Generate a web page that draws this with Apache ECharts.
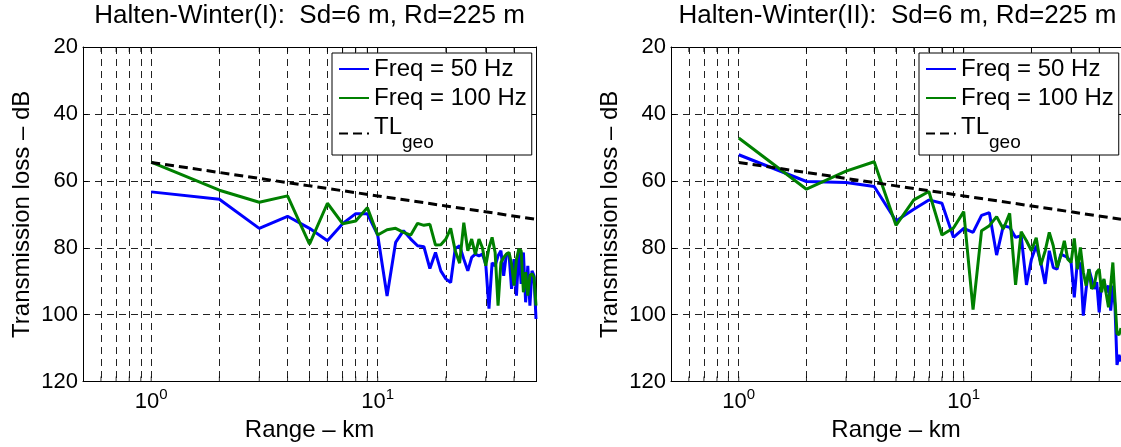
<!DOCTYPE html>
<html>
<head>
<meta charset="utf-8">
<script src="https://cdn.jsdelivr.net/npm/echarts@6/dist/echarts.min.js"></script>
<style>
  html, body { margin: 0; padding: 0; background: #fff; }
  #chart { width: 1121px; height: 447px; }
</style>
</head>
<body>
<div id="chart"></div>
<script>
// Range samples (km)
const rangeKm = [1,2,3,4,5,6,7,8,9,10,11,12,13,14,15,16,17,18,19,20,21,22,23,24,25,26,27,28,29,30,31,32,33,34,35,36,37,38,39,40,41,42,43,44,45,46,47,48,49,50];

// Halten-Winter(I) transmission loss (dB)
const winterI_50Hz = [63.3,65.5,74.2,70.6,74.2,77.9,72.8,69.8,69.8,76.2, 94.4,78.4,74.9,77.4,79.4,79.7,86.2,81.4,86.9,89.3, 90.4,80.2,79.4,83.4,86.9,82.9,81.9,82.4,81.9,84.9, 98.2,84.5,85.4,82.4,80.9,88.4,81.9,81.9,92.3,83.4, 94.3,80.4,90.8,81.4,96.3,85.4,97.3,86.9,88.4,101.3];
const winterI_100Hz = [54.4,62.8,66.4,64.5,78.9,66.7,72.8,72.0,68.0,76.2, 74.6,74.2,75.4,76.2,72.7,73.3,73.0,79.2,79.1,77.4, 74.2,80.9,84.6,72.5,80.9,77.4,82.0,77.4,80.0,85.4, 80.0,76.9,81.4,97.3,84.4,82.9,81.9,81.4,84.9,91.3, 83.4,80.4,80.9,93.3,87.3,94.3,88.3,87.8,88.8,97.3];

// Halten-Winter(II) transmission loss (dB)
const winterII_50Hz = [52.2,60.2,60.5,61.7,72.0,68.5,65.7,66.7,76.9,74.2, 75.4,70.3,69.5,82.2,73.4,73.9,76.9,76.4,91.1,83.4, 79.4,84.4,90.8,80.9,85.9,86.4,81.9,82.4,83.0,84.4, 94.8,83.9,84.9,100.3,92.3,86.4,89.3,92.3,90.3,99.3, 90.3,89.8,93.3,91.3,98.8,91.3,97.3,115.0,112.0,114.0];
const winterII_100Hz = [47.2,62.5,57.1,54.3,73.3,65.7,63.2,76.2,74.1,69.2, 98.5,74.9,73.4,70.7,74.4,69.7,91.1,75.2,77.9,80.9, 77.0,85.2,81.0,75.4,79.4,85.9,82.4,77.9,83.4,84.4, 77.2,86.4,79.9,87.3,91.3,86.4,92.3,91.3,87.3,86.4, 93.3,89.3,93.8,97.8,91.3,84.4,95.3,105.7,106.0,104.0];

// Geometric spreading loss reference
const tlGeoRange = [1, 2, 5, 10, 20, 50];
const tlGeo = [54.5, 57.5, 61.5, 64.5, 67.5, 71.5];

// Axis decorations
const xGridValues = [0.6,0.7,0.8,0.9,1,2,3,4,5,6,7,8,9,10,20,30,40];
const xMajorLabels = [1, 10];
const panelTitles = ['Halten-Winter(I):  Sd=6 m, Rd=225 m', 'Halten-Winter(II):  Sd=6 m, Rd=225 m'];
const seriesNames = ['Freq = 50 Hz', 'Freq = 100 Hz', 'TL_geo'];
const xName = 'Range \u2013 km';
const yName = 'Transmission loss \u2013 dB';

const FONT = '"Liberation Sans", Arial, Helvetica, sans-serif';
const pair = (xs, ys) => xs.map((x, i) => [x, ys[i]]);

const panels = [
  { left: 83, right: 585, center: 309.5, legendLeft: 332, blue: winterI_50Hz, green: winterI_100Hz, title: panelTitles[0] },
  { left: 671, right: -3, center: 897.5, legendLeft: 919, blue: winterII_50Hz, green: winterII_100Hz, title: panelTitles[1] }
];

const option = {
  animation: false,
  backgroundColor: '#fff',
  textStyle: { fontFamily: FONT },
  title: [], grid: [], xAxis: [], yAxis: [], legend: [], series: []
};

panels.forEach((p, i) => {
  option.title.push({
    text: p.title, left: p.center, top: 3, textAlign: 'center', padding: 0,
    textStyle: { fontFamily: FONT, fontSize: 26, fontWeight: 'normal', color: '#000' }
  });
  option.grid.push({ left: p.left, right: p.right, top: 47, bottom: 64, containLabel: false });

  // bottom (labelled) and top (frame) log axes
  option.xAxis.push({
    type: 'log', logBase: 10, min: 0.5, max: 50, gridIndex: i, position: 'bottom',
    name: xName, nameLocation: 'middle', nameGap: 36,
    nameTextStyle: { fontFamily: FONT, fontSize: 24, color: '#000' },
    axisLine: { show: true, lineStyle: { color: '#000', width: 1 } },
    axisTick: { show: false }, minorTick: { show: false },
    splitLine: { show: false }, minorSplitLine: { show: false },
    axisLabel: {
      show: true, margin: 6, color: '#000', showMinLabel: false, showMaxLabel: false,
      formatter: v => {
        const e = Math.round(Math.log10(v));
        if (Math.abs(Math.log10(v) - e) < 1e-6 && xMajorLabels.includes(Math.pow(10, e))) {
          return '{b|10}{e|' + e + '}';
        }
        return '';
      },
      rich: {
        b: { fontFamily: FONT, fontSize: 22, color: '#000' },
        e: { fontFamily: FONT, fontSize: 15, color: '#000', padding: [0, 0, 14, 0] }
      }
    }
  });
  option.xAxis.push({
    type: 'log', logBase: 10, min: 0.5, max: 50, gridIndex: i, position: 'top',
    axisLine: { show: true, lineStyle: { color: '#000', width: 1 } },
    axisTick: { show: false }, axisLabel: { show: false }, splitLine: { show: false }
  });

  option.yAxis.push({
    type: 'value', inverse: true, min: 20, max: 120, interval: 20, gridIndex: i, position: 'left',
    name: yName, nameLocation: 'middle', nameGap: 49,
    nameTextStyle: { fontFamily: FONT, fontSize: 24, color: '#000' },
    axisLine: { show: true, lineStyle: { color: '#000', width: 1 } },
    axisTick: { show: true, inside: true, length: 5, lineStyle: { color: '#000' } },
    axisLabel: { fontFamily: FONT, fontSize: 22, color: '#000', margin: 5 },
    splitLine: { show: true, lineStyle: { color: '#222', width: 1, type: [7, 5] } }
  });
  option.yAxis.push({
    type: 'value', inverse: true, min: 20, max: 120, interval: 20, gridIndex: i, position: 'right',
    axisLine: { show: true, lineStyle: { color: '#000', width: 1 } },
    axisTick: { show: true, inside: true, length: 5, lineStyle: { color: '#000' } },
    axisLabel: { show: false }, splitLine: { show: false }
  });

  const xb = 2 * i, yl = 2 * i;

  option.series.push({
    name: seriesNames[0], type: 'line', xAxisIndex: xb, yAxisIndex: yl,
    data: pair(rangeKm, p.blue), symbol: 'none', z: 3,
    lineStyle: { color: '#0000ff', width: 3 }, itemStyle: { color: '#0000ff' }
  });
  option.series.push({
    name: seriesNames[1], type: 'line', xAxisIndex: xb, yAxisIndex: yl,
    data: pair(rangeKm, p.green), symbol: 'none', z: 4,
    lineStyle: { color: '#008000', width: 3 }, itemStyle: { color: '#008000' }
  });
  option.series.push({
    name: seriesNames[2], type: 'line', xAxisIndex: xb, yAxisIndex: yl,
    data: pair(tlGeoRange, tlGeo), symbol: 'none', z: 5,
    lineStyle: { color: '#000', width: 3, type: [9, 5] }, itemStyle: { color: '#000' },
    markLine: {
      silent: true, symbol: ['none', 'none'], z: 1, animation: false,
      label: { show: false }, emphasis: { disabled: true },
      lineStyle: { color: '#222', width: 1, type: [7, 5] },
      data: xGridValues.map(v => ({ xAxis: v }))
    }
  });
  // tick marks on the bottom and top edges
  option.series.push({
    type: 'scatter', xAxisIndex: xb, yAxisIndex: yl, silent: true, z: 6,
    symbol: 'rect', symbolSize: [1, 5], symbolOffset: [0, -2.5],
    itemStyle: { color: '#000' },
    data: xGridValues.map(v => [v, 120])
  });
  option.series.push({
    type: 'scatter', xAxisIndex: xb, yAxisIndex: yl, silent: true, z: 6,
    symbol: 'rect', symbolSize: [1, 5], symbolOffset: [0, 2.5],
    itemStyle: { color: '#000' },
    data: xGridValues.map(v => [v, 20])
  });

  option.legend.push({
    data: seriesNames, orient: 'vertical', left: p.legendLeft, top: 53,
    padding: [4, 5, 3, 6], itemGap: 5, itemWidth: 30, itemHeight: 4,
    backgroundColor: '#fff', borderColor: '#000', borderWidth: 1, borderRadius: 0,
    selectedMode: false, z: 10,
    itemStyle: { opacity: 0 },
    formatter: name => name === 'TL_geo' ? '{m|TL}{s|geo}' : name,
    textStyle: {
      fontFamily: FONT, fontSize: 24, lineHeight: 24, color: '#000',
      rich: {
        m: { fontFamily: FONT, fontSize: 24, lineHeight: 24, verticalAlign: 'top', color: '#000' },
        s: { fontFamily: FONT, fontSize: 19, lineHeight: 37, verticalAlign: 'bottom', color: '#000' }
      }
    }
  });
});

const chart = echarts.init(document.getElementById('chart'), null, { renderer: 'canvas' });
chart.setOption(option);
</script>
</body>
</html>
